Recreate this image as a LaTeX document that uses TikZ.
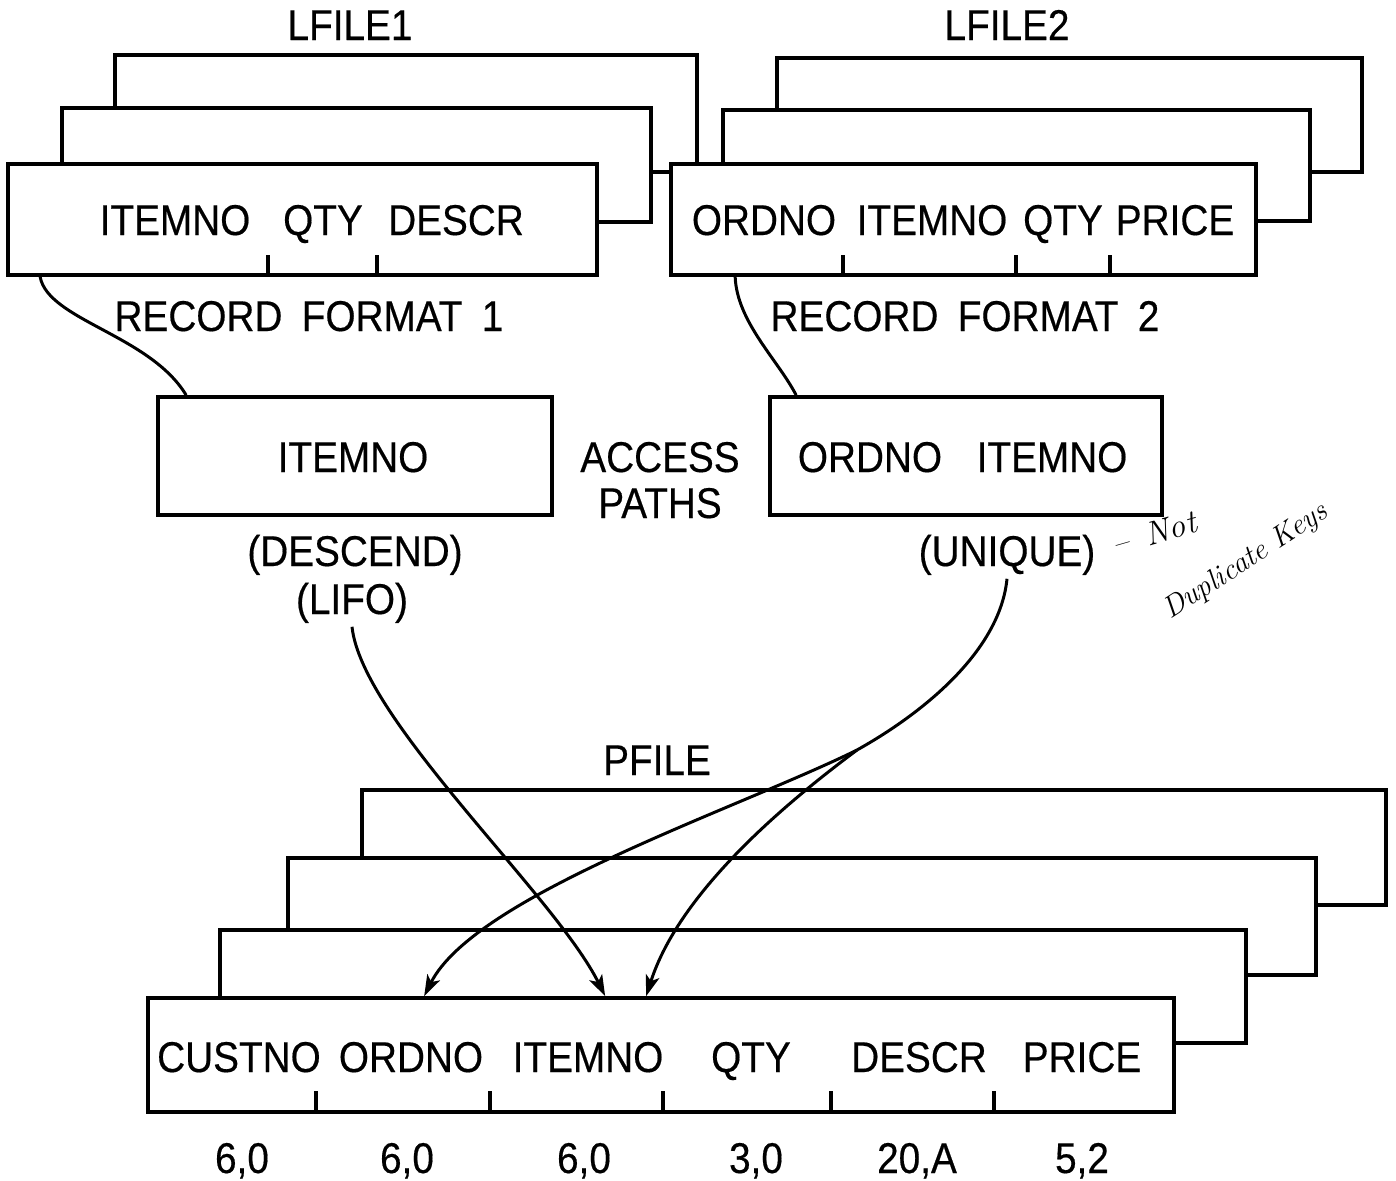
\documentclass[tikz,border=0pt]{standalone}
\usepackage{fontspec}
\setsansfont{Liberation Sans}[FakeStretch=0.9,FakeBold=0.4]
\usetikzlibrary{positioning,fit,calc,arrows.meta}
\tikzset{
  >=Stealth,
  every node/.style={font=\sffamily\fontsize{24.5}{28}\selectfont},
  % --- boxes
  rec/.style  = {draw, fill=white, line width=2.1pt, inner sep=0pt, fit={#1}},
  lbl/.style  = {anchor=base, inner sep=2pt},
  hand/.style = {inner sep=0pt, font=\rmfamily\itshape\fontsize{17}{20}\selectfont},
  % --- lines
  tick/.style = {line width=1.8pt},
  link/.style = {line width=1.7pt},
  arr/.style  = {link, -{Stealth[length=12pt,width=8pt,inset=3pt]}},
}
\newcommand{\wsp}{\hspace{0.45em}}

\begin{document}
\begin{tikzpicture}[x=0.02cm,y=-0.02cm]
  \useasboundingbox (0,0) rectangle (1396,1180);

  % LFILE1
  \node[rec={(115,55)(697,172)}] (lf1c) {};
  \node[rec={(62,108)(651,222)}] (lf1b) {};
  \node[rec={(8,164)(597,275)}] (lf1a) {};
  % LFILE2
  \node[rec={(777,58)(1362,172)}] (lf2c) {};
  \node[rec={(723,110)(1310,221)}] (lf2b) {};
  \node[rec={(671,164)(1256,275)}] (lf2a) {};

  \node[lbl] (t1) at (350,40) {LFILE1};
  \node[lbl] (t2) at (1007,40) {LFILE2};
  \foreach \t/\x [count=\i] in {ITEMNO/175,QTY/323,DESCR/456}
    \node[lbl] (fa\i) at (\x,235) {\t};
  \foreach \t/\x [count=\i] in {ORDNO/764,ITEMNO/932,QTY/1063,PRICE/1175}
    \node[lbl] (fb\i) at (\x,235) {\t};
  \foreach \x in {268,377} \draw[tick] (\x,275) -- (\x,255);
  \foreach \x in {843,1016,1110} \draw[tick] (\x,275) -- (\x,255);
  \node[lbl] (rf1) at (309,331) {RECORD\wsp FORMAT\wsp 1};
  \node[lbl] (rf2) at (965,331) {RECORD\wsp FORMAT\wsp 2};

  % access paths
  \node[rec={(158,397)(552,515)}] (acc1) {};
  \node[rec={(770,397)(1162,515)}] (acc2) {};
  \node[lbl] (k1) at (353,472) {ITEMNO};
  \node[lbl] (k2) at (870,472) {ORDNO};
  \node[lbl] (k3) at (1052,472) {ITEMNO};
  \node[lbl] (ap1) at (660,472) {ACCESS};
  \node[lbl] (ap2) at (660,518) {PATHS};
  \node[lbl] (desc) at (355,566) {(DESCEND)};
  \node[lbl] (lifo) at (352,614) {(LIFO)};
  \node[lbl] (uniq) at (1007,566) {(UNIQUE)};
  \node[hand, rotate=16, font=\rmfamily\itshape\fontsize{19}{22}\selectfont] (nt) at (1154,533) {--\hspace{10pt}Not};
  \node[hand, rotate=33] (dk) at (1246,562) {Duplicate Keys};

  \draw[link] ($(lf1a.south west)+(34,0)$) .. controls (48,320) and (150,335) .. ($(acc1.north west)+(30,0)$);
  \draw[link] ($(lf2a.south west)+(66,0)$) .. controls (737,322) and (778,360) .. ($(acc2.north west)+(28,0)$);

  % PFILE
  \node[lbl] (t3) at (657,775) {PFILE};
  \node[rec={(362,790)(1386,905)}] (pf3) {};
  \node[rec={(288,858)(1316,975)}] (pf2) {};
  \node[rec={(220,930)(1246,1043)}] (pf1) {};
  \node[rec={(148,998)(1174,1112)}] (pf0) {};
  \foreach \t/\x [count=\i] in {CUSTNO/239,ORDNO/411,ITEMNO/588,QTY/751,DESCR/919,PRICE/1082}
    \node[lbl] (fp\i) at (\x,1072) {\t};
  \foreach \x in {316,490,663,831,994} \draw[tick] (\x,1112) -- (\x,1091);
  \foreach \t/\x [count=\i] in {{6,0}/242,{6,0}/407,{6,0}/584,{3,0}/756,{20,A}/917,{5,2}/1082}
    \node[lbl] (len\i) at (\x,1173) {\t};

  % key fields
  \coordinate (fork) at (857,750);
  \draw[arr] (lifo.south) .. controls (362,720) and (555,895) .. ($(pf0.north west)+(459,0)$);
  \draw[link] (uniq.south) .. controls (1000,650) and (925,712) .. (fork);
  \draw[arr] (fork) .. controls (740,808) and (475,895) .. ($(pf0.north west)+(278,0)$);
  \draw[arr] (fork) .. controls (790,800) and (680,890) .. ($(pf0.north west)+(500,0)$);
\end{tikzpicture}
\end{document}
